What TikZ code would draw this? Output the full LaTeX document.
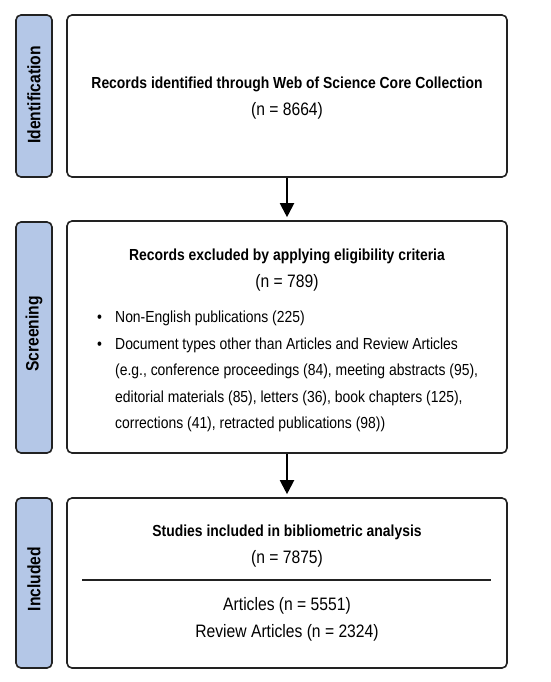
\documentclass[tikz,border=0pt]{standalone}
\usepackage{fontspec}
\setmainfont{Liberation Sans}[FakeStretch=0.87]
\usetikzlibrary{arrows.meta}
\definecolor{tabblue}{HTML}{B4C7E7}
\definecolor{edgegray}{HTML}{222222}
\newcommand{\flowfont}{\fontsize{16}{27}\selectfont}
\newcommand{\countfont}{\fontsize{18}{27}\selectfont}
\begin{document}
\begin{tikzpicture}[x=1pt, y=1pt,
    stagebox/.style={draw=edgegray, line width=1.6pt, rounded corners=5pt, minimum width=440pt, inner sep=0pt},
    phasetab/.style={draw=edgegray, line width=1.6pt, fill=tabblue, rounded corners=5pt, minimum width=36pt, inner sep=0pt},
    phaselabel/.style={rotate=90, font=\fontsize{18}{20}\selectfont\bfseries},
    flow/.style={line width=2pt, -{Triangle[width=14pt,length=14pt]}, shorten >=3pt}]
    \fill[white] (0, 0) rectangle (550, -682);
    \useasboundingbox (0, 0) rectangle (550, -682);
    \node[phasetab, minimum height=162pt] (idtab) at (34, -96) {};
    \node[phasetab, minimum height=231pt] (scrtab) at (34, -337.5) {};
    \node[phasetab, minimum height=170pt] (inctab) at (34, -583) {};
    \node[phaselabel] (idlabel) at (34, -95) {Identification};
    \node[phaselabel] (scrlabel) at (34, -334) {Screening};
    \node[phaselabel] (inclabel) at (34, -579) {Included};
    \node[stagebox, minimum height=162pt] (idbox) at (287, -96) {};
    \node[stagebox, minimum height=232pt] (scrbox) at (287, -337) {};
    \node[stagebox, minimum height=170pt] (incbox) at (287, -583) {};
    \node[font=\flowfont, align=center] (idtext) at (287, -98.5)
        {\textbf{Records identified through Web of Science Core Collection}\\\countfont(n = 8664)};
    \node[font=\flowfont, align=center] (scrtext) at (287, -270)
        {\textbf{Records excluded by applying eligibility criteria}\\\countfont(n = 789)};
    \node[font=\fontsize{16}{26.5}\selectfont, align=left, anchor=north west, inner sep=0pt] (scrlist) at (97, -311)
        {\makebox[18pt][l]{\textbullet}Non-English publications (225)\\
         \makebox[18pt][l]{\textbullet}Document types other than Articles and Review Articles\\
         \hspace*{18pt}(e.g., conference proceedings (84), meeting abstracts (95),\\
         \hspace*{18pt}editorial materials (85), letters (36), book chapters (125),\\
         \hspace*{18pt}corrections (41), retracted publications (98))};
    \node[font=\flowfont, align=center] (inctext) at (287, -546.5)
        {\textbf{Studies included in bibliometric analysis}\\\countfont(n = 7875)};
    \node[font=\countfont, align=center] (inclist) at (287, -619.5)
        {Articles (n = 5551)\\Review Articles (n = 2324)};
    \draw[line width=1.2pt, edgegray] (82, -580) -- (491, -580);
    \draw[flow] (idbox) -- (scrbox);
    \draw[flow] (scrbox) -- (incbox);
\end{tikzpicture}
\end{document}
